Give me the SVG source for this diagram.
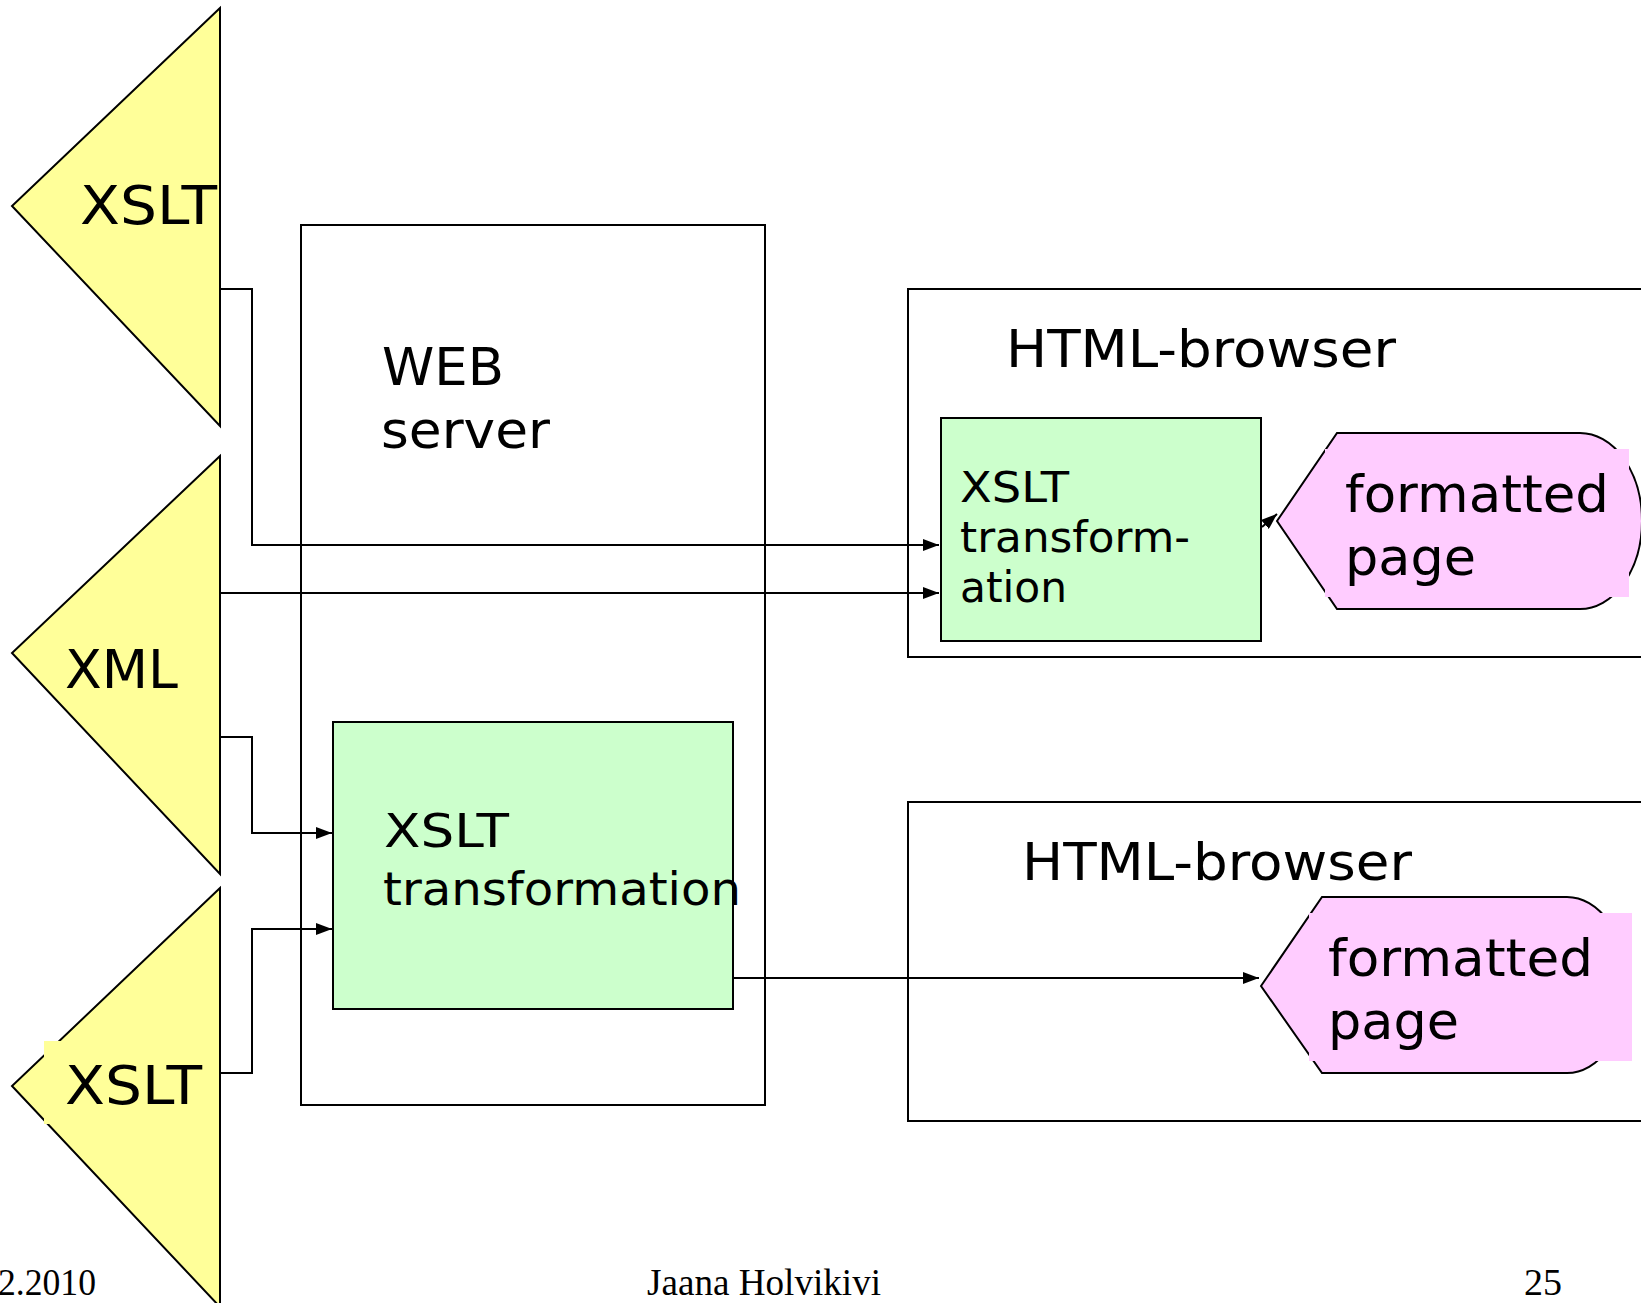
<svg xmlns="http://www.w3.org/2000/svg" width="1641" height="1303" viewBox="0 0 1641 1303">
  <style>
    .ln { fill: none; stroke: #000; stroke-width: 2; }
    .doc { fill: #FFFF99; stroke: #000; stroke-width: 2; }
    .proc { fill: #CCFFCC; stroke: #000; stroke-width: 2; }
    .page { fill: #FFCCFF; stroke: #000; stroke-width: 2; }
    .frame { fill: none; stroke: #000; stroke-width: 2; }
    .t { font-family: "DejaVu Sans", Verdana, sans-serif; fill: #000; }
    .foot { font-family: "Liberation Serif", "Times New Roman", serif; font-size: 38px; fill: #000; }
  </style>
  <defs>
    <marker id="arrow" viewBox="0 0 16 12" markerWidth="16" markerHeight="12" refX="16" refY="6" orient="auto" markerUnits="userSpaceOnUse">
      <path d="M0,0 L16,6 L0,12 z" fill="#000"/>
    </marker>
  </defs>

  <rect width="1641" height="1303" fill="#fff"/>

  <!-- source documents -->
  <g id="xslt-top">
    <polygon class="doc" points="220,8 12,206 220,426"/>
    <text class="t" x="80" y="224" font-size="53" textLength="137" lengthAdjust="spacingAndGlyphs">XSLT</text>
  </g>
  <g id="xml">
    <polygon class="doc" points="220,456 12,653 220,874"/>
    <text class="t" x="65" y="688" font-size="53" textLength="113" lengthAdjust="spacingAndGlyphs">XML</text>
  </g>
  <g id="xslt-bottom">
    <polygon class="doc" points="220,888 12,1086 220,1307"/>
    <rect x="44" y="1041" width="175" height="83" fill="#FFFF99"/>
    <text class="t" x="65" y="1104" font-size="53" textLength="137" lengthAdjust="spacingAndGlyphs">XSLT</text>
  </g>

  <!-- web server -->
  <g id="web-server">
    <rect class="frame" x="301" y="225" width="464" height="880"/>
    <text class="t" x="382" y="385" font-size="51" textLength="122" lengthAdjust="spacingAndGlyphs">WEB</text>
    <text class="t" x="381" y="448" font-size="51" textLength="169" lengthAdjust="spacingAndGlyphs">server</text>
  </g>
  <g id="server-xslt">
    <rect class="proc" x="333" y="722" width="400" height="287"/>
    <text class="t" x="384" y="847" font-size="47" textLength="125" lengthAdjust="spacingAndGlyphs">XSLT</text>
    <text class="t" x="383" y="905" font-size="47" textLength="358" lengthAdjust="spacingAndGlyphs">transformation</text>
    <line class="ln" x1="733" y1="722" x2="733" y2="1009"/>
  </g>

  <!-- client-side browser -->
  <g id="browser-1">
    <path class="frame" d="M1645,289 L908,289 L908,657 L1645,657"/>
    <text class="t" x="1006" y="367" font-size="51" textLength="390" lengthAdjust="spacingAndGlyphs">HTML-browser</text>
  </g>
  <g id="browser-xslt">
    <rect class="proc" x="941" y="418" width="320" height="223"/>
    <text class="t" x="960" y="502" font-size="42" textLength="109" lengthAdjust="spacingAndGlyphs">XSLT</text>
    <text class="t" x="960" y="552" font-size="42" textLength="230" lengthAdjust="spacingAndGlyphs">transform-</text>
    <text class="t" x="960" y="602" font-size="42" textLength="107" lengthAdjust="spacingAndGlyphs">ation</text>
  </g>
  <g id="page-1">
    <path class="page" d="M1277,521 L1337,433 L1580,433 A62,88 0 0 1 1580,609 L1337,609 Z"/>
    <rect x="1325" y="449" width="304" height="148" fill="#FFCCFF"/>
    <text class="t" x="1345" y="512" font-size="51" textLength="264" lengthAdjust="spacingAndGlyphs">formatted</text>
    <text class="t" x="1345" y="575" font-size="51" textLength="131" lengthAdjust="spacingAndGlyphs">page</text>
  </g>

  <!-- server-side browser -->
  <g id="browser-2">
    <path class="frame" d="M1645,802 L908,802 L908,1121 L1645,1121"/>
    <text class="t" x="1022" y="880" font-size="51" textLength="390" lengthAdjust="spacingAndGlyphs">HTML-browser</text>
  </g>
  <g id="page-2">
    <path class="page" d="M1261,986 L1322,897 L1567,897 A60,88 0 0 1 1567,1073 L1322,1073 Z"/>
    <rect x="1309" y="913" width="323" height="148" fill="#FFCCFF"/>
    <text class="t" x="1328" y="976" font-size="51" textLength="265" lengthAdjust="spacingAndGlyphs">formatted</text>
    <text class="t" x="1328" y="1039" font-size="51" textLength="131" lengthAdjust="spacingAndGlyphs">page</text>
  </g>

  <!-- connectors -->
  <g id="connectors">
    <path class="ln" d="M220,289 L252,289 L252,545 L939,545" marker-end="url(#arrow)"/>
    <path class="ln" d="M220,593 L939,593" marker-end="url(#arrow)"/>
    <path class="ln" d="M220,737 L252,737 L252,833 L332,833" marker-end="url(#arrow)"/>
    <path class="ln" d="M220,1073 L252,1073 L252,929 L332,929" marker-end="url(#arrow)"/>
    <path class="ln" d="M733,978 L1259,978" marker-end="url(#arrow)"/>
    <path class="ln" d="M1262,527 L1277,514" marker-end="url(#arrow)"/>
  </g>

  <!-- footer -->
  <g id="footer">
    <text class="foot" x="-2" y="1295" textLength="98" lengthAdjust="spacingAndGlyphs">2.2010</text>
    <text class="foot" x="647" y="1295" textLength="234" lengthAdjust="spacingAndGlyphs">Jaana Holvikivi</text>
    <text class="foot" x="1524" y="1295">25</text>
  </g>
</svg>
